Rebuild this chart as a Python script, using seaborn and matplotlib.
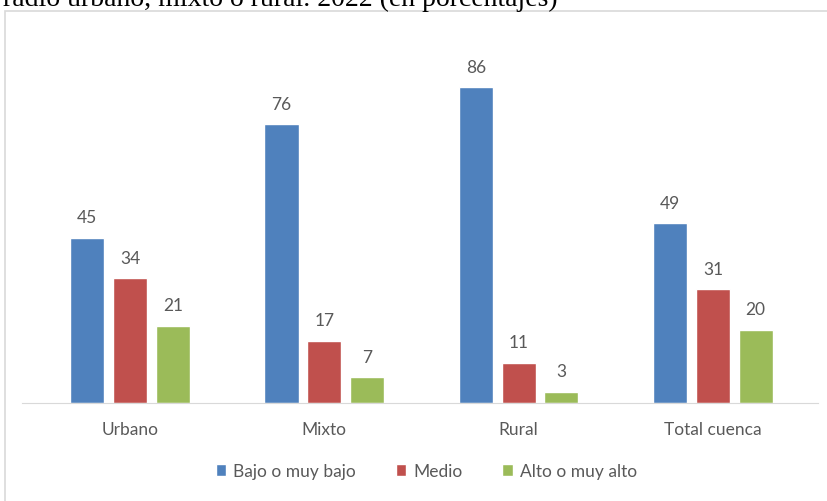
import pandas as pd
import matplotlib.pyplot as plt
import seaborn as sns
from matplotlib.patches import Rectangle

categorias = ['Urbano', 'Mixto', 'Rural', 'Total cuenca']
niveles = ['Bajo o muy bajo', 'Medio', 'Alto o muy alto']
bajo = [45, 76, 86, 49]
medio = [34, 17, 11, 31]
alto = [21, 7, 3, 20]
colores = ['#4F81BD', '#C0504D', '#9BBB59']

df = pd.DataFrame({
    'categoria': categorias * 3,
    'nivel': [niveles[0]] * 4 + [niveles[1]] * 4 + [niveles[2]] * 4,
    'valor': bajo + medio + alto,
})

sns.set_style('white')
plt.rcParams['font.family'] = ['Lato', 'DejaVu Sans']

fig = plt.figure(figsize=(8.27, 5.02), dpi=100)
ax = fig.add_axes([22 / 827, 1 - 404 / 502, (818 - 22) / 827, (404 - 37) / 502])

sns.barplot(data=df, x='categoria', y='valor', hue='nivel', palette=colores,
            width=0.66, gap=0.2, saturation=1, ax=ax, legend=True)

ax.set_ylim(0, 100)
ax.set_xlim(-0.556, 3.541)
ax.set_xlabel('')
ax.set_ylabel('')
ax.set_yticks([])
for s in ['left', 'right', 'top']:
    ax.spines[s].set_visible(False)
ax.spines['bottom'].set_color('#d9d9d9')
ax.tick_params(axis='x', length=0, pad=13, labelsize=12.5, labelcolor='#595959')

for cont in ax.containers:
    ax.bar_label(cont, padding=9, fontsize=12.5, color='#595959')

leg = ax.legend(loc='center', bbox_to_anchor=(0.508, -0.185), ncol=3, frameon=False,
                fontsize=12.5, handlelength=0.6, handleheight=0.7, handletextpad=0.4,
                columnspacing=2.3)
for t in leg.get_texts():
    t.set_color('#595959')

# chart border
fig.patches.append(Rectangle((5 / 827, -0.05), 1.1, 1 - 12 / 502 + 0.05,
                             transform=fig.transFigure, fill=False,
                             edgecolor='#d9d9d9', linewidth=1.2))

fig.text(3 / 827, 1 - 6.5 / 502, 'radio urbano, mixto o rural. 2022 (en porcentajes)',
         family='Liberation Serif', fontsize=20, color='black', va='baseline')

plt.savefig('out.png', dpi=100)
